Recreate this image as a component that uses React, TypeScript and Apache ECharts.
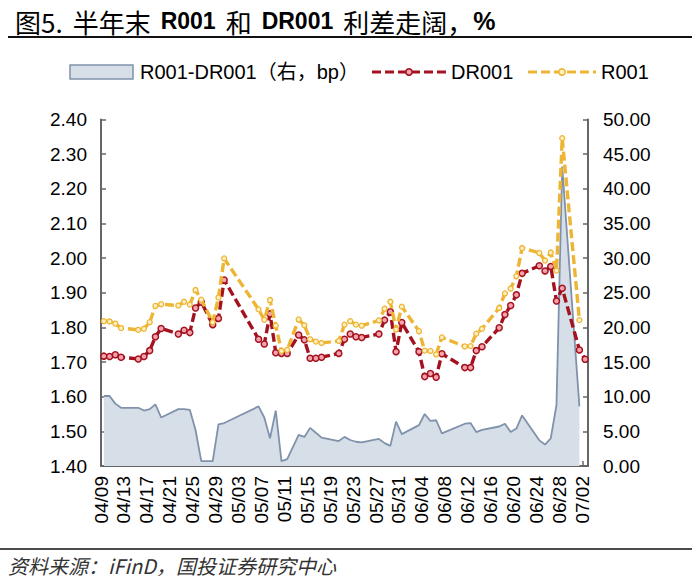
import React, { useEffect, useRef } from 'react';
import * as echarts from 'echarts';

const YEAR = 2024;
const START = '04/09';
const AXIS_DAYS = 85;
const SPREAD_NAME = 'R001-DR001（右，bp）';

const dates = [
  '04/09', '04/10', '04/11', '04/12', '04/15', '04/16', '04/17', '04/18', '04/19',
  '04/22', '04/23', '04/24', '04/25', '04/26', '04/28', '04/29', '04/30',
  '05/06', '05/07', '05/08', '05/09', '05/10', '05/11', '05/13', '05/14', '05/15', '05/16', '05/17',
  '05/20', '05/21', '05/22', '05/23', '05/24', '05/27', '05/28', '05/29', '05/30', '05/31',
  '06/03', '06/04', '06/05', '06/06', '06/07', '06/11', '06/12', '06/13', '06/14',
  '06/17', '06/18', '06/19', '06/20', '06/21', '06/24', '06/25', '06/26', '06/27', '06/28',
  '07/01', '07/02',
];

const dr001 = [
  1.717, 1.716, 1.721, 1.714, 1.709, 1.716, 1.733, 1.773, 1.797,
  1.781, 1.792, 1.785, 1.856, 1.873, 1.808, 1.826, 1.937,
  1.766, 1.752, 1.839, 1.727, 1.725, 1.725, 1.778, 1.764, 1.711, 1.711, 1.714,
  1.725, 1.766, 1.781, 1.773, 1.771, 1.781, 1.821, 1.845, 1.730, 1.814,
  1.730, 1.658, 1.667, 1.656, 1.724, 1.684, 1.684, 1.733, 1.744,
  1.799, 1.837, 1.863, 1.894, 1.956, 1.978, 1.963, 1.976, 1.876, 1.913,
  1.735, 1.708,
];

const r001 = [
  1.818, 1.817, 1.811, 1.798, 1.793, 1.796, 1.815, 1.862, 1.867,
  1.863, 1.874, 1.866, 1.908, 1.880, 1.815, 1.886, 1.999,
  1.852, 1.822, 1.879, 1.805, 1.732, 1.735, 1.823, 1.806, 1.766, 1.759, 1.755,
  1.761, 1.808, 1.818, 1.808, 1.805, 1.820, 1.854, 1.874, 1.794, 1.860,
  1.789, 1.733, 1.732, 1.722, 1.771, 1.745, 1.746, 1.782, 1.796,
  1.856, 1.898, 1.912, 1.948, 2.029, 2.015, 1.993, 2.016, 1.964, 2.346,
  1.821, null,
];

const spread = [
  10.1, 10.1, 9.0, 8.4, 8.4, 8.0, 8.2, 8.9, 7.0,
  8.2, 8.2, 8.1, 5.2, 0.7, 0.7, 6.0, 6.2,
  8.6, 7.0, 4.0, 8.0, 0.7, 1.0, 4.5, 4.2, 5.5, 4.8, 4.1,
  3.6, 4.2, 3.75, 3.5, 3.4, 3.9, 3.3, 2.9, 6.4, 4.6,
  5.9, 7.5, 6.5, 6.6, 4.7, 6.1, 6.2, 4.9, 5.2,
  5.7, 6.1, 4.9, 5.4, 7.3, 3.7, 3.1, 4.0, 8.8, 43.2,
  8.6, null,
];

const DAY = 86400000;
const toTime = (md: string) => {
  const [m, d] = md.split('/').map(Number);
  return Date.UTC(YEAR, m - 1, d);
};
const t0 = toTime(START);
const dayIndex = (md: string) => Math.round((toTime(md) - t0) / DAY);
const dayLabel = (i: number) => {
  const dt = new Date(t0 + i * DAY);
  const mm = String(dt.getUTCMonth() + 1).padStart(2, '0');
  const dd = String(dt.getUTCDate()).padStart(2, '0');
  return `${mm}/${dd}`;
};
const pairs = (vals: (number | null)[]) =>
  dates
    .map((d, i) => [dayIndex(d) + 0.5, vals[i]] as [number, number | null])
    .filter((p) => p[1] !== null);

const LATIN = "'Liberation Sans', Arial, 'Noto Sans CJK SC', sans-serif";
const CJK = "'Noto Sans CJK SC', 'Liberation Sans', sans-serif";
const AXIS_COLOR = '#666666';
const DR_COLOR = '#A3121E';
const DR_FILL = '#F4A3AE';
const R_COLOR = '#EDB533';
const R_FILL = '#FDEFC4';
const AREA_FILL = '#D6DEE8';
const AREA_LINE = '#8092AB';
const DASH = [9, 4];

const legendLine = (x1: number, x2: number, y: number, stroke: string, fill: string) => ({
  type: 'group',
  children: [
    {
      type: 'line',
      shape: { x1, y1: y, x2, y2: y },
      style: { stroke, lineWidth: 3.2, lineDash: DASH },
    },
    {
      type: 'circle',
      shape: { cx: (x1 + x2) / 2, cy: y, r: 3.2 },
      style: { fill, stroke, lineWidth: 1.6 },
      z: 10,
    },
  ],
});

const legendText = (x: number, y: number, text: string) => ({
  type: 'text',
  x,
  y,
  style: { text, font: `20px ${LATIN}`, fill: '#000', verticalAlign: 'middle', align: 'left' },
});

export default function App() {
  const ref = useRef<HTMLDivElement>(null);
  useEffect(() => {
    if (!ref.current) return;
    const chart = echarts.init(ref.current, null, { renderer: 'svg' });
    const axisLabel = { color: '#000', fontSize: 19, fontFamily: LATIN };
    const LY = 72;
    chart.setOption({
      animation: false,
      backgroundColor: '#fff',
      title: {
        left: 10,
        top: 3,
        text: '{a|图5.}{s| }{a|半年末}{s| }{b|R001}{s| }{a|和}{s| }{b|DR001}{s| }{a|利差走阔，}{p|%}',
        textStyle: {
          rich: {
            a: { fontSize: 26, fontFamily: CJK, color: '#000', fontWeight: 'normal' },
            b: { fontSize: 23, fontFamily: LATIN, color: '#000', fontWeight: 'bold' },
            p: { fontSize: 25, fontFamily: LATIN, color: '#000', fontWeight: 'bold' },
            s: { fontSize: 20, width: 10 },
          },
        },
      },
      grid: { left: 101, right: 112, top: 119.5, bottom: 113, containLabel: false },
      xAxis: {
        type: 'value',
        min: 0,
        max: AXIS_DAYS,
        interval: 4,
        axisLine: { lineStyle: { color: AXIS_COLOR, width: 2 } },
        axisTick: { inside: true, length: 5, lineStyle: { color: AXIS_COLOR, width: 1.5 } },
        splitLine: { show: false },
        axisLabel: {
          ...axisLabel,
          rotate: 90,
          margin: 10,
          showMaxLabel: false,
          formatter: (v: number) => (v % 4 === 0 && v < AXIS_DAYS ? dayLabel(v) : ''),
        },
      },
      yAxis: [
        {
          type: 'value',
          min: 1.4,
          max: 2.4,
          interval: 0.1,
          position: 'left',
          axisLine: { show: true, lineStyle: { color: AXIS_COLOR, width: 2 } },
          axisTick: { show: true, inside: true, length: 5, lineStyle: { color: AXIS_COLOR, width: 1.5 } },
          splitLine: { show: false },
          axisLabel: { ...axisLabel, margin: 14, formatter: (v: number) => v.toFixed(2) },
        },
        {
          type: 'value',
          min: 0,
          max: 50,
          interval: 5,
          position: 'right',
          axisLine: { show: true, lineStyle: { color: AXIS_COLOR, width: 2 } },
          axisTick: { show: true, inside: true, length: 5, lineStyle: { color: AXIS_COLOR, width: 1.5 } },
          splitLine: { show: false },
          axisLabel: { ...axisLabel, margin: 15, formatter: (v: number) => v.toFixed(2) },
        },
      ],
      series: [
        {
          name: SPREAD_NAME,
          type: 'line',
          yAxisIndex: 1,
          data: pairs(spread),
          symbol: 'none',
          lineStyle: { color: AREA_LINE, width: 1.8 },
          itemStyle: { color: AREA_FILL, borderColor: AREA_LINE },
          areaStyle: { color: AREA_FILL, opacity: 1 },
          z: 1,
        },
        {
          name: 'DR001',
          type: 'line',
          yAxisIndex: 0,
          data: pairs(dr001),
          symbol: 'circle',
          symbolSize: 6,
          lineStyle: { color: DR_COLOR, width: 3.4, type: DASH },
          itemStyle: { color: DR_FILL, borderColor: DR_COLOR, borderWidth: 1.5 },
          z: 3,
        },
        {
          name: 'R001',
          type: 'line',
          yAxisIndex: 0,
          data: pairs(r001),
          symbol: 'circle',
          symbolSize: 5,
          lineStyle: { color: R_COLOR, width: 3.4, type: DASH },
          itemStyle: { color: R_FILL, borderColor: R_COLOR, borderWidth: 1.3 },
          z: 4,
        },
      ],
      graphic: [
        { type: 'line', shape: { x1: 8, y1: 37, x2: 692, y2: 37 }, style: { stroke: '#111', lineWidth: 2 } },
        { type: 'line', shape: { x1: 0, y1: 549, x2: 692, y2: 549 }, style: { stroke: '#111', lineWidth: 1.5 } },
        {
          type: 'rect',
          shape: { x: 70, y: LY - 7, width: 63, height: 14 },
          style: { fill: AREA_FILL, stroke: AREA_LINE, lineWidth: 1.5 },
        },
        legendText(140, LY, SPREAD_NAME),
        legendLine(372, 446, LY, DR_COLOR, DR_FILL),
        legendText(451, LY, 'DR001'),
        legendLine(528, 596, LY, R_COLOR, R_FILL),
        legendText(601, LY, 'R001'),
        {
          type: 'text',
          x: 8,
          y: 565,
          style: {
            text: '资料来源：iFinD，国投证券研究中心',
            font: `italic 20px ${CJK}`,
            fill: '#333',
            verticalAlign: 'middle',
          },
        },
      ],
    });
    return () => chart.dispose();
  }, []);
  return (
    <div
      ref={ref}
      style={{ position: 'absolute', left: 0, top: 0, width: 700, height: 579, background: '#fff' }}
    />
  );
}
